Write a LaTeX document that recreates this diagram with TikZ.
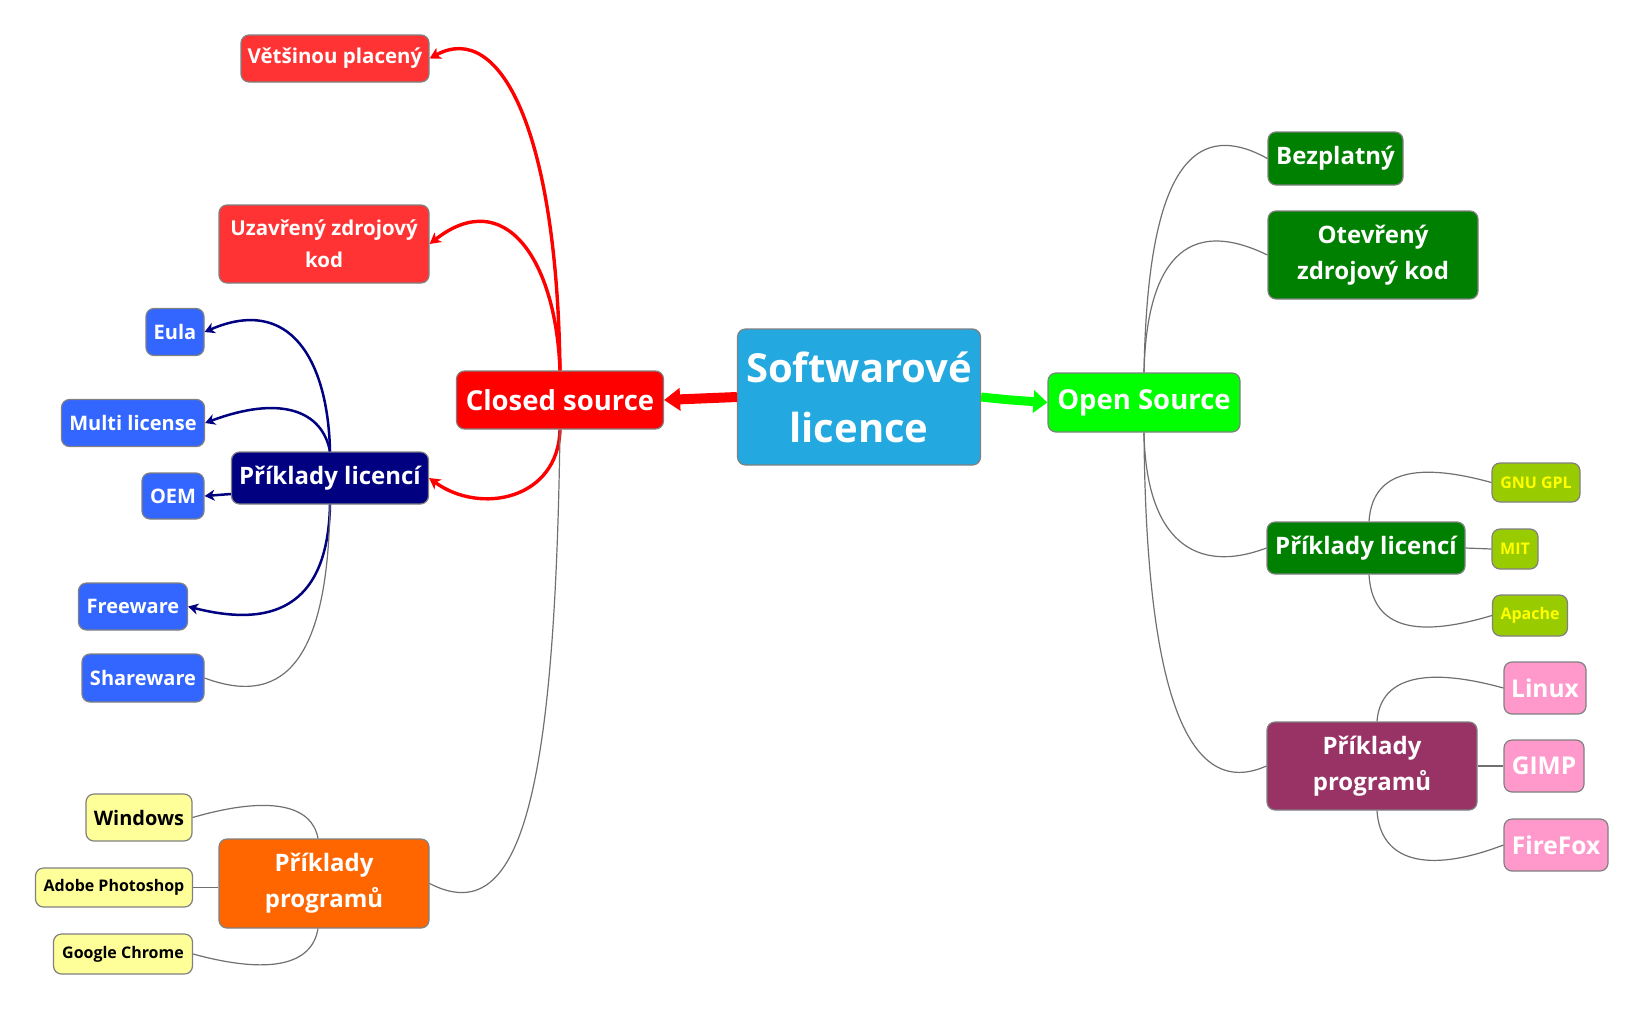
\documentclass[tikz,border=0pt]{standalone}
\usepackage{fontspec}
\setmainfont{Open Sans}
\usetikzlibrary{arrows.meta}
\definecolor{rootc}{HTML}{23A8E0}
\definecolor{bord}{HTML}{808080}
\definecolor{conn}{HTML}{707070}
\definecolor{lred}{HTML}{FF3333}
\definecolor{navyc}{HTML}{000080}
\definecolor{bluec}{HTML}{3366FF}
\definecolor{orangec}{HTML}{FF6600}
\definecolor{yellc}{HTML}{FFFF99}
\definecolor{lgreen}{HTML}{00FF00}
\definecolor{dgreen}{HTML}{008000}
\definecolor{olivec}{HTML}{99CC00}
\definecolor{yeltext}{HTML}{FFFF00}
\definecolor{purplec}{HTML}{993366}
\definecolor{pinkc}{HTML}{FF99CC}
\newcommand\fsz[2]{\fontsize{#1}{#2}\selectfont}
\begin{document}
\begin{tikzpicture}[x=1pt,y=-1pt,
  box/.style={draw=bord, line width=1.2pt, rounded corners=8pt, align=center, inner sep=0pt, text=white},
  sz/.style 2 args={minimum width=#1pt, minimum height=#2pt},
  redarr/.style={draw=red, line width=3.4pt, -{Stealth[length=11pt,width=12pt,inset=3pt]}},
  navarr/.style={draw=navyc, line width=2.5pt, -{Stealth[length=10pt,width=11pt,inset=3pt]}},
  gline/.style={draw=conn, line width=1.2pt},
]
\useasboundingbox (0,0) rectangle (1645,1012);
% nodes
\node[box, fill=rootc, sz={243}{136}, font=\fsz{40}{60}\bfseries] (root) at (859,397) {Softwarové\\licence};
\node[box, fill=red, sz={207}{58}, font=\fsz{27.5}{32}\bfseries] (closed) at (560,400) {Closed source};
\node[box, fill=lred, sz={188}{47}, font=\fsz{20.5}{30}\bfseries] (vp) at (335,58.5) {Většinou placený};
\node[box, fill=lred, sz={210}{78}, font=\fsz{20.5}{32}\bfseries] (uz) at (324,244) {Uzavřený zdrojový\\kod};
\node[box, fill=navyc, sz={197}{52}, font=\fsz{24}{30}\bfseries] (lic) at (330,478) {Příklady licencí};
\node[box, fill=bluec, sz={58}{47}, font=\fsz{20}{30}\bfseries] (eula) at (175,332) {Eula};
\node[box, fill=bluec, sz={143}{47}, font=\fsz{20}{30}\bfseries] (multi) at (133,423) {Multi license};
\node[box, fill=bluec, sz={62}{46}, font=\fsz{20}{30}\bfseries] (oem) at (173,496) {OEM};
\node[box, fill=bluec, sz={109}{47}, font=\fsz{20}{30}\bfseries] (free) at (133,606.5) {Freeware};
\node[box, fill=bluec, sz={122}{48}, font=\fsz{20}{30}\bfseries] (share) at (143,678) {Shareware};
\node[box, fill=orangec, sz={210}{89}, font=\fsz{24}{36}\bfseries] (prog) at (324,883.5) {Příklady\\programů};
\node[box, fill=yellc, text=black, sz={106}{47}, font=\fsz{20}{30}\bfseries] (win) at (139,817.5) {Windows};
\node[box, fill=yellc, text=black, sz={157}{39}, font=\fsz{16}{24}\bfseries] (adobe) at (114,887.5) {Adobe Photoshop};
\node[box, fill=yellc, text=black, sz={139}{40}, font=\fsz{16}{24}\bfseries] (chrome) at (123,954) {Google Chrome};
\node[box, fill=lgreen, sz={192}{59}, font=\fsz{27.5}{32}\bfseries] (open) at (1144,402.5) {Open Source};
\node[box, fill=dgreen, sz={135}{53}, font=\fsz{24}{30}\bfseries] (bez) at (1335.5,158.5) {Bezplatný};
\node[box, fill=dgreen, sz={210}{88}, font=\fsz{24}{36}\bfseries] (otev) at (1373,255) {Otevřený\\zdrojový kod};
\node[box, fill=dgreen, sz={198}{52}, font=\fsz{24}{30}\bfseries] (rlic) at (1366,548) {Příklady licencí};
\node[box, fill=olivec, text=yeltext, sz={88}{39}, font=\fsz{16}{24}\bfseries] (gnu) at (1536,482.5) {GNU GPL};
\node[box, fill=olivec, text=yeltext, sz={46}{40}, font=\fsz{16}{24}\bfseries] (mit) at (1515,549) {MIT};
\node[box, fill=olivec, text=yeltext, sz={75}{41}, font=\fsz{16}{24}\bfseries] (apache) at (1530,615.5) {Apache};
\node[box, fill=purplec, sz={210}{88}, font=\fsz{24}{36}\bfseries] (rprog) at (1372,766) {Příklady\\programů};
\node[box, fill=pinkc, sz={82}{52}, font=\fsz{24.5}{30}\bfseries] (linux) at (1545,688) {Linux};
\node[box, fill=pinkc, sz={80}{52}, font=\fsz{24.5}{30}\bfseries] (gimp) at (1544,766) {GIMP};
\node[box, fill=pinkc, sz={104}{52}, font=\fsz{24.5}{30}\bfseries] (firefox) at (1556,845) {FireFox};
% main arrows
\draw[red, line width=10pt, -{Triangle[length=16pt,width=22pt]}] (root.west) -- (closed.east);
\draw[lgreen, line width=9pt, -{Triangle[length=14pt,width=22pt]}] (root.east) .. controls (1010,400) .. (open.west);
% closed source branches
\draw[redarr] (closed.north) .. controls (557,130) and (500,20) .. (vp.east);
\draw[redarr] (closed.north) .. controls (556,260) and (505,185) .. (uz.east);
\draw[redarr] (closed.south) .. controls (558,500) and (480,515) .. (lic.east);
\draw[gline] (closed.south) .. controls (555,800) and (520,930) .. (prog.east);
% licence examples (left)
\draw[navarr] (lic.north) .. controls (328,360) and (290,295) .. (eula.east);
\draw[navarr] (lic.north) .. controls (322,410) and (280,395) .. (multi.east);
\draw[navarr] ([yshift=-16pt]lic.west) -- (oem.east);
\draw[navarr] (lic.south) .. controls (328,600) and (280,630) .. (free.east);
\draw[gline] (lic.south) .. controls (328,650) and (290,710) .. (share.east);
% programs (left)
\draw[gline] ([xshift=-6pt]prog.north) .. controls (312,805) and (270,795) .. (win.east);
\draw[gline] (adobe.east) -- (adobe.east -| prog.west);
\draw[gline] ([xshift=-6pt]prog.south) .. controls (312,965) and (270,975) .. (chrome.east);
% open source branches
\draw[gline] (open.north) .. controls (1147,200) and (1180,110) .. (bez.west);
\draw[gline] (open.north) .. controls (1146,280) and (1175,210) .. (otev.west);
\draw[gline] (open.south) .. controls (1146,540) and (1195,575) .. (rlic.west);
\draw[gline] (open.south) .. controls (1146,700) and (1190,800) .. (rprog.west);
% licence examples (right)
\draw[gline] ([xshift=3pt]rlic.north) .. controls (1372,475) and (1410,460) .. (gnu.west);
\draw[gline] (rlic.east) -- (mit.west);
\draw[gline] ([xshift=3pt]rlic.south) .. controls (1372,625) and (1410,640) .. (apache.west);
% programs (right)
\draw[gline] ([xshift=5pt]rprog.north) .. controls (1380,680) and (1420,665) .. (linux.west);
\draw[gline] (rprog.east) -- (gimp.west);
\draw[gline] ([xshift=5pt]rprog.south) .. controls (1380,860) and (1425,875) .. (firefox.west);
\end{tikzpicture}
\end{document}
